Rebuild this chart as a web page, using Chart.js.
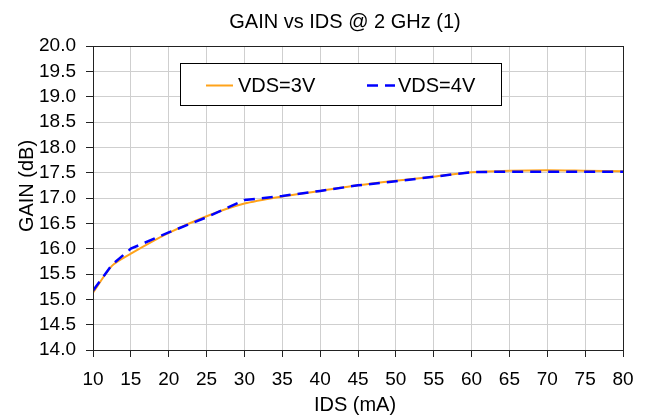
<!DOCTYPE html>
<html>
<head>
<meta charset="utf-8">
<script src="https://cdn.jsdelivr.net/npm/chart.js@4.4.1/dist/chart.umd.min.js"></script>
<style>
  html, body { margin: 0; padding: 0; background: #fff; }
  #wrap { width: 650px; height: 417px; }
</style>
</head>
<body>
<div id="wrap"><canvas id="chart" width="650" height="417"></canvas></div>
<script>
// IDS (mA) sample points
const ids = [10, 12.5, 15, 20, 25, 30, 35, 40, 45, 50, 55, 60, 65, 70, 75, 80];
// gain (dB)
const gain3V = [15.13, 15.66, 15.9, 16.31, 16.64, 16.89, 17.03, 17.14, 17.25, 17.34, 17.42, 17.51, 17.54, 17.55, 17.54, 17.53];
const gain4V = [15.17, 15.68, 16.0, 16.32, 16.62, 16.96, 17.04, 17.14, 17.25, 17.33, 17.42, 17.51, 17.52, 17.52, 17.52, 17.52];
const seriesNames = ["VDS=3V", "VDS=4V"];
const chartTitle = "GAIN vs IDS @ 2 GHz (1)";
const xTitle = "IDS (mA)";
const yTitle = "GAIN (dB)";

const FONT = "'Liberation Sans', Arial, Helvetica, sans-serif";

function toPoints(xs, ys) {
  return xs.map(function (x, i) { return { x: x, y: ys[i] }; });
}

// frame around the plot area (top and right sides too)
const framePlugin = {
  id: "frame",
  afterDatasetsDraw: function (chart) {
    const a = chart.chartArea;
    const ctx = chart.ctx;
    ctx.save();
    ctx.strokeStyle = "#222";
    ctx.lineWidth = 1;
    ctx.strokeRect(Math.round(a.left) + 0.5, Math.round(a.top) + 0.5,
      Math.round(a.right - a.left), Math.round(a.bottom - a.top));
    ctx.restore();
  },
};

// titles placed the way the original has them (y title is off-centre)
const titlesPlugin = {
  id: "titles",
  afterDraw: function (chart) {
    const ctx = chart.ctx;
    ctx.save();
    ctx.fillStyle = "#000";
    ctx.font = "20px " + FONT;
    ctx.textAlign = "center";
    ctx.textBaseline = "alphabetic";
    ctx.fillText(chartTitle, 345, 28);
    ctx.fillText(xTitle, 355, 411);
    ctx.translate(33, 186);
    ctx.rotate(-Math.PI / 2);
    ctx.fillText(yTitle, 0, 0);
    ctx.restore();
  },
};

// boxed legend sitting inside the plot
const boxLegend = {
  id: "boxLegend",
  afterDraw: function (chart) {
    const ctx = chart.ctx;
    const ds = chart.data.datasets;
    ctx.save();
    ctx.fillStyle = "#fff";
    ctx.fillRect(181, 64, 320, 41);
    ctx.strokeStyle = "#000";
    ctx.lineWidth = 1;
    ctx.strokeRect(180.5, 63.5, 321, 42);

    const items = [
      { x1: 206, x2: 233, tx: 238 },
      { x1: 367, x2: 395, tx: 398 },
    ];
    items.forEach(function (it, i) {
      const d = ds[i];
      ctx.beginPath();
      ctx.strokeStyle = d.borderColor;
      ctx.lineWidth = d.borderWidth;
      ctx.setLineDash(d.borderDash || []);
      ctx.moveTo(it.x1, 85.5);
      ctx.lineTo(it.x2, 85.5);
      ctx.stroke();
      ctx.setLineDash([]);
      ctx.fillStyle = "#000";
      ctx.font = "20px " + FONT;
      ctx.textBaseline = "middle";
      ctx.textAlign = "left";
      ctx.fillText(d.label, it.tx, 86);
    });
    ctx.restore();
  },
};

new Chart(document.getElementById("chart"), {
  type: "line",
  data: {
    datasets: [
      {
        label: seriesNames[0],
        data: toPoints(ids, gain3V),
        borderColor: "#ffa31a",
        borderWidth: 2,
        pointRadius: 0,
        tension: 0.25,
        order: 2,
      },
      {
        label: seriesNames[1],
        data: toPoints(ids, gain4V),
        borderColor: "#0000ff",
        borderWidth: 2.5,
        borderDash: [11, 7],
        pointRadius: 0,
        tension: 0,
        order: 1,
      },
    ],
  },
  options: {
    responsive: false,
    animation: false,
    layout: { padding: { left: 0, right: 27, top: 46, bottom: 0 } },
    plugins: {
      legend: { display: false },
      tooltip: { enabled: false },
      title: { display: false },
    },
    scales: {
      x: {
        type: "linear",
        min: 10,
        max: 80,
        afterFit: function (scale) { scale.height = 67; },
        ticks: {
          stepSize: 5,
          autoSkip: false,
          color: "#000",
          padding: 11,
          maxRotation: 0,
          font: { family: FONT, size: 19 },
        },
        grid: { color: "#cfcfcf", tickColor: "#222", tickLength: 7 },
        border: { color: "#222" },
      },
      y: {
        min: 14,
        max: 20,
        afterFit: function (scale) { scale.width = 93; },
        ticks: {
          stepSize: 0.5,
          autoSkip: false,
          color: "#000",
          padding: 10,
          font: { family: FONT, size: 19 },
          callback: function (v) { return v.toFixed(1); },
        },
        grid: { color: "#cfcfcf", tickColor: "#222", tickLength: 7 },
        border: { color: "#222" },
      },
    },
  },
  plugins: [framePlugin, titlesPlugin, boxLegend],
});
</script>
</body>
</html>
